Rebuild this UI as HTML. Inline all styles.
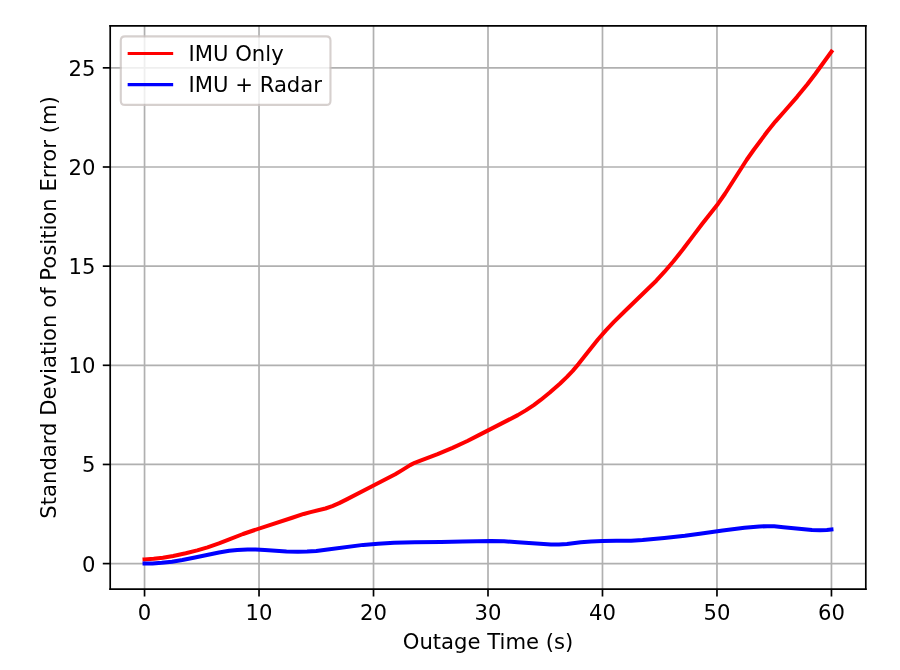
<!DOCTYPE html>
<html><head><meta charset="utf-8"><title>Plot</title>
<style>html,body{margin:0;padding:0;background:#fff;}body{width:900px;height:670px;overflow:hidden;}svg{display:block;will-change:transform;}</style>
</head><body>
<svg width="900" height="670" viewBox="0 0 425.19685 316.535433" version="1.1">
 <defs>
  <style type="text/css">*{stroke-linejoin: round; stroke-linecap: butt}</style>
 </defs>
 <g id="figure_1">
  <g id="patch_1">
   <path d="M 0 316.535433 L 425.19685 316.535433 L 425.19685 0 L 0 0 z
" style="fill: #ffffff"/>
  </g>
  <g id="axes_1">
   <g id="patch_2">
    <path d="M 52.062992 278.314961 L 409.03937 278.314961 L 409.03937 12.188976 L 52.062992 12.188976 z
" style="fill: #ffffff"/>
   </g>
   <g id="matplotlib.axis_1">
    <g id="xtick_1">
     <g id="line2d_1">
      <path d="M 68.289191 278.314961 L 68.289191 12.188976 " clip-path="url(#pf8d6a84aa9)" style="fill: none; stroke: #b0b0b0; stroke-width: 0.8; stroke-linecap: square"/>
     </g>
     <g id="line2d_2">
      <defs>
       <path id="m1504cfccaf" d="M 0 0 L 0 3.5 " style="stroke: #000000; stroke-width: 0.8"/>
      </defs>
      <g>
       <use href="#m1504cfccaf" x="68.289191" y="278.314961" style="stroke: #000000; stroke-width: 0.8"/>
      </g>
     </g>
     <g id="text_1">
      <text style="font-size: 10px; font-family: 'DejaVu Sans', sans-serif; text-anchor: middle" x="68.289191" y="292.913398" transform="rotate(-0 68.289191 292.913398)">0</text>
     </g>
    </g>
    <g id="xtick_2">
     <g id="line2d_3">
      <path d="M 122.376521 278.314961 L 122.376521 12.188976 " clip-path="url(#pf8d6a84aa9)" style="fill: none; stroke: #b0b0b0; stroke-width: 0.8; stroke-linecap: square"/>
     </g>
     <g id="line2d_4">
      <g>
       <use href="#m1504cfccaf" x="122.376521" y="278.314961" style="stroke: #000000; stroke-width: 0.8"/>
      </g>
     </g>
     <g id="text_2">
      <text style="font-size: 10px; font-family: 'DejaVu Sans', sans-serif; text-anchor: middle" x="122.376521" y="292.913398" transform="rotate(-0 122.376521 292.913398)">10</text>
     </g>
    </g>
    <g id="xtick_3">
     <g id="line2d_5">
      <path d="M 176.463851 278.314961 L 176.463851 12.188976 " clip-path="url(#pf8d6a84aa9)" style="fill: none; stroke: #b0b0b0; stroke-width: 0.8; stroke-linecap: square"/>
     </g>
     <g id="line2d_6">
      <g>
       <use href="#m1504cfccaf" x="176.463851" y="278.314961" style="stroke: #000000; stroke-width: 0.8"/>
      </g>
     </g>
     <g id="text_3">
      <text style="font-size: 10px; font-family: 'DejaVu Sans', sans-serif; text-anchor: middle" x="176.463851" y="292.913398" transform="rotate(-0 176.463851 292.913398)">20</text>
     </g>
    </g>
    <g id="xtick_4">
     <g id="line2d_7">
      <path d="M 230.551181 278.314961 L 230.551181 12.188976 " clip-path="url(#pf8d6a84aa9)" style="fill: none; stroke: #b0b0b0; stroke-width: 0.8; stroke-linecap: square"/>
     </g>
     <g id="line2d_8">
      <g>
       <use href="#m1504cfccaf" x="230.551181" y="278.314961" style="stroke: #000000; stroke-width: 0.8"/>
      </g>
     </g>
     <g id="text_4">
      <text style="font-size: 10px; font-family: 'DejaVu Sans', sans-serif; text-anchor: middle" x="230.551181" y="292.913398" transform="rotate(-0 230.551181 292.913398)">30</text>
     </g>
    </g>
    <g id="xtick_5">
     <g id="line2d_9">
      <path d="M 284.638511 278.314961 L 284.638511 12.188976 " clip-path="url(#pf8d6a84aa9)" style="fill: none; stroke: #b0b0b0; stroke-width: 0.8; stroke-linecap: square"/>
     </g>
     <g id="line2d_10">
      <g>
       <use href="#m1504cfccaf" x="284.638511" y="278.314961" style="stroke: #000000; stroke-width: 0.8"/>
      </g>
     </g>
     <g id="text_5">
      <text style="font-size: 10px; font-family: 'DejaVu Sans', sans-serif; text-anchor: middle" x="284.638511" y="292.913398" transform="rotate(-0 284.638511 292.913398)">40</text>
     </g>
    </g>
    <g id="xtick_6">
     <g id="line2d_11">
      <path d="M 338.725841 278.314961 L 338.725841 12.188976 " clip-path="url(#pf8d6a84aa9)" style="fill: none; stroke: #b0b0b0; stroke-width: 0.8; stroke-linecap: square"/>
     </g>
     <g id="line2d_12">
      <g>
       <use href="#m1504cfccaf" x="338.725841" y="278.314961" style="stroke: #000000; stroke-width: 0.8"/>
      </g>
     </g>
     <g id="text_6">
      <text style="font-size: 10px; font-family: 'DejaVu Sans', sans-serif; text-anchor: middle" x="338.725841" y="292.913398" transform="rotate(-0 338.725841 292.913398)">50</text>
     </g>
    </g>
    <g id="xtick_7">
     <g id="line2d_13">
      <path d="M 392.813171 278.314961 L 392.813171 12.188976 " clip-path="url(#pf8d6a84aa9)" style="fill: none; stroke: #b0b0b0; stroke-width: 0.8; stroke-linecap: square"/>
     </g>
     <g id="line2d_14">
      <g>
       <use href="#m1504cfccaf" x="392.813171" y="278.314961" style="stroke: #000000; stroke-width: 0.8"/>
      </g>
     </g>
     <g id="text_7">
      <text style="font-size: 10px; font-family: 'DejaVu Sans', sans-serif; text-anchor: middle" x="392.813171" y="292.913398" transform="rotate(-0 392.813171 292.913398)">60</text>
     </g>
    </g>
    <g id="text_8">
     <text style="font-size: 10px; font-family: 'DejaVu Sans', sans-serif; text-anchor: middle" x="230.551181" y="306.591523" transform="rotate(-0 230.551181 306.591523)">Outage Time (s)</text>
    </g>
   </g>
   <g id="matplotlib.axis_2">
    <g id="ytick_1">
     <g id="line2d_15">
      <path d="M 52.062992 266.267717 L 409.03937 266.267717 " clip-path="url(#pf8d6a84aa9)" style="fill: none; stroke: #b0b0b0; stroke-width: 0.8; stroke-linecap: square"/>
     </g>
     <g id="line2d_16">
      <defs>
       <path id="m5d545ce8f8" d="M 0 0 L -3.5 0 " style="stroke: #000000; stroke-width: 0.8"/>
      </defs>
      <g>
       <use href="#m5d545ce8f8" x="52.062992" y="266.267717" style="stroke: #000000; stroke-width: 0.8"/>
      </g>
     </g>
     <g id="text_9">
      <text style="font-size: 10px; font-family: 'DejaVu Sans', sans-serif; text-anchor: end" x="45.062992" y="270.066935" transform="rotate(-0 45.062992 270.066935)">0</text>
     </g>
    </g>
    <g id="ytick_2">
     <g id="line2d_17">
      <path d="M 52.062992 219.425197 L 409.03937 219.425197 " clip-path="url(#pf8d6a84aa9)" style="fill: none; stroke: #b0b0b0; stroke-width: 0.8; stroke-linecap: square"/>
     </g>
     <g id="line2d_18">
      <g>
       <use href="#m5d545ce8f8" x="52.062992" y="219.425197" style="stroke: #000000; stroke-width: 0.8"/>
      </g>
     </g>
     <g id="text_10">
      <text style="font-size: 10px; font-family: 'DejaVu Sans', sans-serif; text-anchor: end" x="45.062992" y="223.224416" transform="rotate(-0 45.062992 223.224416)">5</text>
     </g>
    </g>
    <g id="ytick_3">
     <g id="line2d_19">
      <path d="M 52.062992 172.582677 L 409.03937 172.582677 " clip-path="url(#pf8d6a84aa9)" style="fill: none; stroke: #b0b0b0; stroke-width: 0.8; stroke-linecap: square"/>
     </g>
     <g id="line2d_20">
      <g>
       <use href="#m5d545ce8f8" x="52.062992" y="172.582677" style="stroke: #000000; stroke-width: 0.8"/>
      </g>
     </g>
     <g id="text_11">
      <text style="font-size: 10px; font-family: 'DejaVu Sans', sans-serif; text-anchor: end" x="45.062992" y="176.381896" transform="rotate(-0 45.062992 176.381896)">10</text>
     </g>
    </g>
    <g id="ytick_4">
     <g id="line2d_21">
      <path d="M 52.062992 125.740157 L 409.03937 125.740157 " clip-path="url(#pf8d6a84aa9)" style="fill: none; stroke: #b0b0b0; stroke-width: 0.8; stroke-linecap: square"/>
     </g>
     <g id="line2d_22">
      <g>
       <use href="#m5d545ce8f8" x="52.062992" y="125.740157" style="stroke: #000000; stroke-width: 0.8"/>
      </g>
     </g>
     <g id="text_12">
      <text style="font-size: 10px; font-family: 'DejaVu Sans', sans-serif; text-anchor: end" x="45.062992" y="129.539376" transform="rotate(-0 45.062992 129.539376)">15</text>
     </g>
    </g>
    <g id="ytick_5">
     <g id="line2d_23">
      <path d="M 52.062992 78.897638 L 409.03937 78.897638 " clip-path="url(#pf8d6a84aa9)" style="fill: none; stroke: #b0b0b0; stroke-width: 0.8; stroke-linecap: square"/>
     </g>
     <g id="line2d_24">
      <g>
       <use href="#m5d545ce8f8" x="52.062992" y="78.897638" style="stroke: #000000; stroke-width: 0.8"/>
      </g>
     </g>
     <g id="text_13">
      <text style="font-size: 10px; font-family: 'DejaVu Sans', sans-serif; text-anchor: end" x="45.062992" y="82.696857" transform="rotate(-0 45.062992 82.696857)">20</text>
     </g>
    </g>
    <g id="ytick_6">
     <g id="line2d_25">
      <path d="M 52.062992 32.055118 L 409.03937 32.055118 " clip-path="url(#pf8d6a84aa9)" style="fill: none; stroke: #b0b0b0; stroke-width: 0.8; stroke-linecap: square"/>
     </g>
     <g id="line2d_26">
      <g>
       <use href="#m5d545ce8f8" x="52.062992" y="32.055118" style="stroke: #000000; stroke-width: 0.8"/>
      </g>
     </g>
     <g id="text_14">
      <text style="font-size: 10px; font-family: 'DejaVu Sans', sans-serif; text-anchor: end" x="45.062992" y="35.854337" transform="rotate(-0 45.062992 35.854337)">25</text>
     </g>
    </g>
    <g id="text_15">
     <text style="font-size: 10px; font-family: 'DejaVu Sans', sans-serif; text-anchor: middle" x="26.258305" y="145.251969" transform="rotate(-90 26.258305 145.251969)">Standard Deviation of Position Error (m)</text>
    </g>
   </g>
   <g id="line2d_27">
    <path d="M 68.289191 264.275355 L 72.616178 263.984653 L 76.943164 263.467979 L 81.811024 262.643243 L 87.76063 261.382064 L 93.169363 260.024164 L 98.037223 258.579973 L 103.445956 256.750366 L 108.313815 254.851148 L 114.804295 252.283808 L 119.672155 250.619324 L 138.061847 244.611406 L 143.47058 242.811361 L 146.71582 241.946666 L 153.747173 240.226452 L 156.992412 239.103258 L 160.237652 237.702401 L 164.023765 235.797218 L 176.463851 229.402928 L 186.740444 224.093996 L 189.985684 222.110943 L 193.771797 219.735694 L 195.93529 218.653253 L 198.639656 217.576876 L 206.752756 214.570926 L 213.784109 211.558841 L 220.815462 208.331342 L 226.224195 205.58053 L 237.041661 200.023364 L 244.613887 196.12385 L 248.4 193.886794 L 252.186113 191.361844 L 255.431353 188.948636 L 259.758339 185.427061 L 264.626199 181.172248 L 267.871439 178.070755 L 270.575805 175.196832 L 273.280172 172.006899 L 278.148031 165.823184 L 282.475018 160.40471 L 286.261131 156.071535 L 290.047244 152.075827 L 294.915104 147.270571 L 310.059556 132.609047 L 313.845669 128.497501 L 318.172656 123.440573 L 322.499642 118.026465 L 327.367502 111.5558 L 331.694488 105.847747 L 339.266714 96.20709 L 342.511954 91.537028 L 346.298067 85.643427 L 352.788547 75.479489 L 356.033787 70.870226 L 362.524266 62.140722 L 366.310379 57.433052 L 370.637366 52.539795 L 376.586972 45.756156 L 381.454832 39.794233 L 385.240945 34.817038 L 392.813171 24.373473 L 392.813171 24.373473 " clip-path="url(#pf8d6a84aa9)" style="fill: none; stroke: #ff0000; stroke-width: 1.9; stroke-linecap: square"/>
   </g>
   <g id="line2d_28">
    <path d="M 68.289191 266.251071 L 72.075304 266.208453 L 76.402291 265.916431 L 81.27015 265.365987 L 86.13801 264.584224 L 92.087616 263.37271 L 103.445956 261.002205 L 108.313815 260.24342 L 112.099928 259.861865 L 116.967788 259.620562 L 120.753901 259.620938 L 125.080888 259.872876 L 135.35748 260.565643 L 140.766213 260.691487 L 145.0932 260.593519 L 149.420186 260.277812 L 154.828919 259.634285 L 171.595991 257.423933 L 178.627344 256.839301 L 186.199571 256.434943 L 195.93529 256.162099 L 208.375376 256.023604 L 218.651969 255.861548 L 232.173801 255.585626 L 238.123407 255.733441 L 244.613887 256.144906 L 260.299213 257.258817 L 264.085326 257.22025 L 267.871439 256.969557 L 274.361918 256.22817 L 279.229778 255.795311 L 284.638511 255.557818 L 291.128991 255.516515 L 298.160344 255.45582 L 303.569077 255.133067 L 313.845669 254.228648 L 323.581389 253.155215 L 330.612742 252.142535 L 341.430208 250.577202 L 351.7068 249.378656 L 358.738153 248.728563 L 362.524266 248.591169 L 365.769506 248.673404 L 370.096492 249.039155 L 383.618325 250.381775 L 387.404438 250.476972 L 390.649678 250.35796 L 392.813171 250.164883 L 392.813171 250.164883 " clip-path="url(#pf8d6a84aa9)" style="fill: none; stroke: #0000ff; stroke-width: 1.9; stroke-linecap: square"/>
   </g>
   <g id="patch_3">
    <path d="M 52.062992 278.314961 L 52.062992 12.188976 " style="fill: none; stroke: #000000; stroke-width: 0.8; stroke-linejoin: miter; stroke-linecap: square"/>
   </g>
   <g id="patch_4">
    <path d="M 409.03937 278.314961 L 409.03937 12.188976 " style="fill: none; stroke: #000000; stroke-width: 0.8; stroke-linejoin: miter; stroke-linecap: square"/>
   </g>
   <g id="patch_5">
    <path d="M 52.062992 278.314961 L 409.03937 278.314961 " style="fill: none; stroke: #000000; stroke-width: 0.8; stroke-linejoin: miter; stroke-linecap: square"/>
   </g>
   <g id="patch_6">
    <path d="M 52.062992 12.188976 L 409.03937 12.188976 " style="fill: none; stroke: #000000; stroke-width: 0.8; stroke-linejoin: miter; stroke-linecap: square"/>
   </g>
   <g id="legend_1">
    <g id="patch_7">
     <path d="M 59.062992 49.545226 L 154.134867 49.545226 Q 156.134867 49.545226 156.134867 47.545226 L 156.134867 19.188976 Q 156.134867 17.188976 154.134867 17.188976 L 59.062992 17.188976 Q 57.062992 17.188976 57.062992 19.188976 L 57.062992 47.545226 Q 57.062992 49.545226 59.062992 49.545226 z
" style="fill: #ffffff; opacity: 0.8; stroke: #cdc5c3; stroke-linejoin: miter"/>
    </g>
    <g id="line2d_29">
     <path d="M 61.062992 25.287414 L 71.062992 25.287414 L 81.062992 25.287414 " style="fill: none; stroke: #ff0000; stroke-width: 1.5; stroke-linecap: square"/>
    </g>
    <g id="text_16">
     <text style="font-size: 10px; font-family: 'DejaVu Sans', sans-serif; text-anchor: start" x="89.062992" y="28.787414" transform="rotate(-0 89.062992 28.787414)">IMU Only</text>
    </g>
    <g id="line2d_30">
     <path d="M 61.062992 39.965539 L 71.062992 39.965539 L 81.062992 39.965539 " style="fill: none; stroke: #0000ff; stroke-width: 1.5; stroke-linecap: square"/>
    </g>
    <g id="text_17">
     <text style="font-size: 10px; font-family: 'DejaVu Sans', sans-serif; text-anchor: start" x="89.062992" y="43.465539" transform="rotate(-0 89.062992 43.465539)">IMU + Radar</text>
    </g>
   </g>
  </g>
 </g>
 <defs>
  <clipPath id="pf8d6a84aa9">
   <rect x="52.062992" y="12.188976" width="356.976378" height="266.125984"/>
  </clipPath>
 </defs>
</svg>

</body></html>
